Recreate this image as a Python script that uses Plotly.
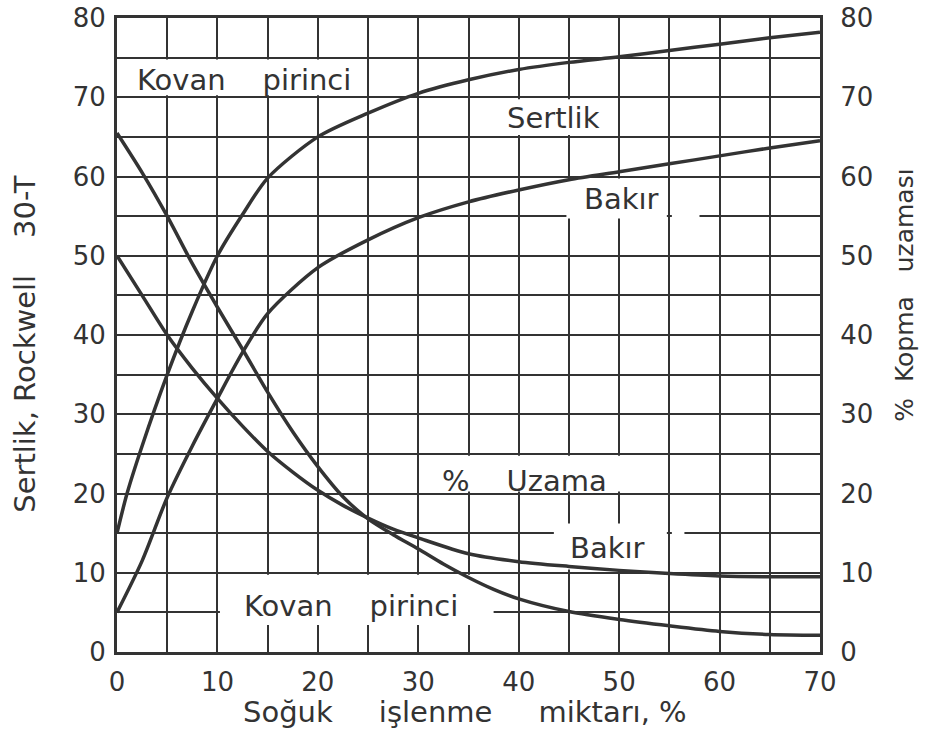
import plotly.graph_objects as go

# ---------------- data ----------------
x_kp_hard = [0, 1, 2.5, 5, 7.5, 10, 12.5, 15, 20, 25, 30, 35, 40, 45, 50, 55, 60, 65, 70]
kp_hard = [15, 20, 26, 35, 43, 50, 55.2, 59.8, 65, 68, 70.5, 72.2, 73.5, 74.4, 75.1, 75.9, 76.7, 77.5, 78.2]

x_bk_hard = [0, 2.5, 5, 7.5, 10, 12.5, 15, 20, 25, 30, 35, 40, 45, 50, 55, 60, 65, 70]
bk_hard = [5, 11.5, 19.5, 26, 32, 37.8, 42.7, 48.5, 52, 54.8, 56.8, 58.3, 59.6, 60.6, 61.6, 62.6, 63.6, 64.5]

x_kp_elong = [0, 2.5, 5, 7.5, 10, 12.5, 15, 17.5, 20, 22.5, 25, 27.5, 30, 32.5, 35, 37.5, 40, 45, 50, 55, 60, 65, 70]
kp_elong = [65.5, 60.5, 55, 49, 43.5, 38.2, 32.8, 27.8, 23.4, 19.6, 16.8, 14.8, 13.0, 11.1, 9.4, 7.9, 6.7, 5.1, 4.1, 3.3, 2.6, 2.2, 2.1]

x_bk_elong = [0, 2.5, 5, 7.5, 10, 12.5, 15, 17.5, 20, 22.5, 25, 27.5, 30, 35, 40, 45, 50, 55, 60, 65, 70]
bk_elong = [50, 45, 40, 35.8, 32, 28.5, 25.3, 22.7, 20.4, 18.5, 16.9, 15.5, 14.4, 12.4, 11.4, 10.8, 10.3, 9.9, 9.6, 9.5, 9.5]

x_ticks = [0, 10, 20, 30, 40, 50, 60, 70]
y_ticks = [0, 10, 20, 30, 40, 50, 60, 70, 80]

# curve labels: (text, x, y)
curve_labels = [
    ("Kovan    pirinci", 12.6, 72.2),
    ("Sertlik", 43.5, 67.4),
    ("Bakır", 50.2, 57.1),
    ("%    Uzama", 40.6, 21.6),
    ("Bakır", 48.8, 13.1),
    ("Kovan    pirinci", 23.3, 5.8),
]

# white label boxes that interrupt the grid: (x0, x1, y0, y1)
label_boxes = [
    (0.3, 24.75, 70.25, 74.75),
    (35.25, 49.75, 65.25, 69.75),
    (44.75, 54.75, 54.7, 59.75),
    (55.25, 58.0, 54.6, 55.4),
    (30.25, 54.75, 20.25, 24.75),
    (43.5, 54.75, 10.4, 16.2),
    (55.25, 56.5, 14.6, 15.4),
    (10.25, 37.5, 3.4, 9.75),
]

INK = "#333333"
FONT = "DejaVu Sans"

fig = go.Figure()
for xs, ys, axis in [(x_kp_hard, kp_hard, "y"), (x_bk_hard, bk_hard, "y"),
                     (x_kp_elong, kp_elong, "y2"), (x_bk_elong, bk_elong, "y2")]:
    fig.add_trace(go.Scatter(x=xs, y=ys, yaxis=axis, mode="lines",
                             line=dict(color=INK, width=3.5, shape="spline", smoothing=0.8),
                             showlegend=False, hoverinfo="skip"))

for x0, x1, y0, y1 in label_boxes:
    fig.add_shape(type="rect", xref="x", yref="y", x0=x0, x1=x1, y0=y0, y1=y1,
                  fillcolor="white", line=dict(width=0), layer="between")

for txt, x, y in curve_labels:
    fig.add_annotation(x=x, y=y, xref="x", yref="y", text=txt, showarrow=False,
                       xanchor="center", yanchor="middle",
                       font=dict(family=FONT, size=29, color=INK))

axis_common = dict(showline=True, linecolor=INK, linewidth=3, zeroline=False, automargin=False,
                   ticklabeloverflow="allow",
                   tickfont=dict(family=FONT, size=26, color=INK))

fig.update_layout(
    width=929, height=734,
    margin=dict(l=117, r=109, t=18, b=82, autoexpand=False),
    paper_bgcolor="white", plot_bgcolor="white",
    xaxis=dict(range=[0, 70], tickvals=x_ticks, mirror=True,
               ticks="outside", ticklen=5, tickcolor="rgba(0,0,0,0)",
               showgrid=True, gridcolor=INK, gridwidth=2,
               minor=dict(dtick=5, tick0=0, showgrid=True, gridcolor=INK, gridwidth=2, ticks=""),
               **axis_common),
    yaxis=dict(range=[0, 80], tickvals=y_ticks, mirror=True,
               ticks="outside", ticklen=3, tickcolor="rgba(0,0,0,0)",
               showgrid=True, gridcolor=INK, gridwidth=2,
               minor=dict(dtick=5, tick0=0, showgrid=True, gridcolor=INK, gridwidth=2, ticks=""),
               **axis_common),
    yaxis2=dict(range=[0, 80], tickvals=y_ticks, overlaying="y", side="right",
                ticks="outside", ticklen=12, tickcolor="rgba(0,0,0,0)",
                showgrid=False, **axis_common),
)

fig.add_annotation(xref="paper", yref="paper", x=-0.131, y=0.486, textangle=-90,
                   xanchor="center", yanchor="middle",
                   text="Sertlik, Rockwell    30-T", showarrow=False,
                   font=dict(family=FONT, size=29, color=INK))
fig.add_annotation(xref="paper", yref="paper", x=1.121, y=0.562, textangle=-90,
                   xanchor="center", yanchor="middle",
                   text="%  Kopma   uzaması", showarrow=False,
                   font=dict(family=FONT, size=25, color=INK))
fig.add_annotation(xref="paper", yref="paper", x=0.495, y=-0.095,
                   xanchor="center", yanchor="middle",
                   text="Soğuk     işlenme     miktarı, %", showarrow=False,
                   font=dict(family=FONT, size=29, color=INK))

# remove the browser's default 8px body margin so the figure fills the window
fig.write_html("out.html", config={"displayModeBar": False},
               post_script="document.body.style.margin='0';document.body.style.overflow='hidden';")
